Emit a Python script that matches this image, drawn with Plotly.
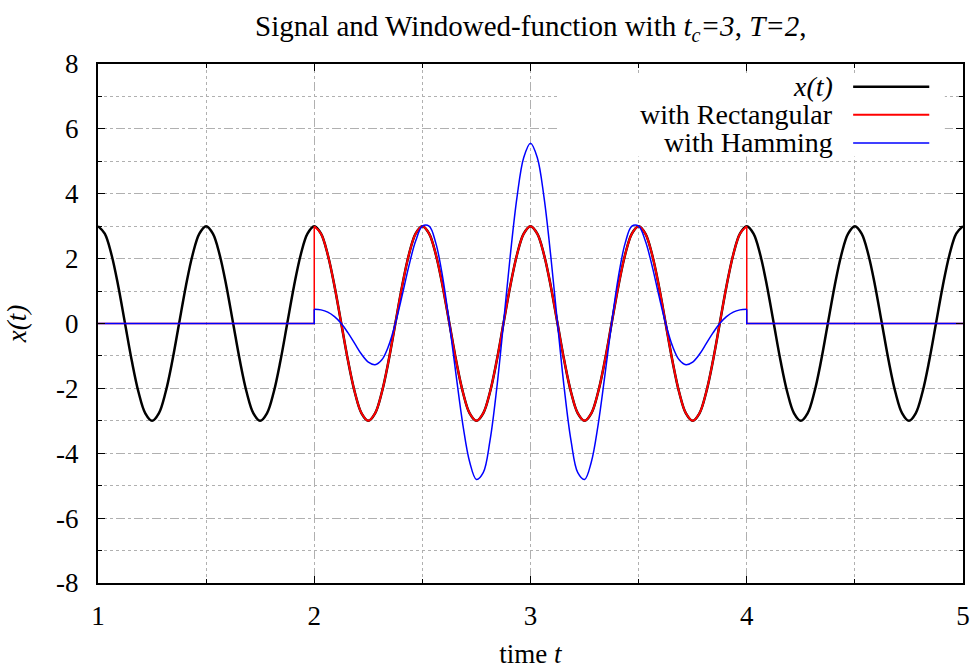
import numpy as np
import plotly.graph_objects as go

# ---- data read from the picture (sampled every 1/32 s) ----
# one period (0.5 s) of the signal x(t)
x_period = [3, 2.77, 2.12, 1.15, 0, -1.15, -2.12, -2.77,
            -3, -2.77, -2.12, -1.15, 0, 1.15, 2.12, 2.77]

t_signal = np.linspace(1, 5, 129)
x_signal = x_period * 8 + [3]

t_window = np.linspace(2, 4, 65)
x_rect = x_period * 4 + [3]
x_hamm = [0.44, 0.42, 0.35, 0.21, 0, -0.29, -0.62, -0.95,
          -1.19, -1.27, -1.12, -0.69, 0, 0.86, 1.77, 2.54,
          3.0, 3.0, 2.47, 1.43, 0, -1.61, -3.13, -4.27,
          -4.81, -4.6, -3.62, -2.01, 0, 2.08, 3.89, 5.12,
          5.56,
          5.12, 3.89, 2.08, 0, -2.01, -3.62, -4.6, -4.81,
          -4.27, -3.13, -1.61, 0, 1.43, 2.47, 3.0, 3.0,
          2.54, 1.77, 0.86, 0, -0.69, -1.12, -1.27, -1.19,
          -0.95, -0.62, -0.29, 0, 0.21, 0.35, 0.42, 0.44]

# outside-window parts (zero) with the jumps at the window edges
t_left = [1, 2, 2]
t_right = [4, 4, 5]
rect_left = [0, 0, 3]
rect_right = [3, 0, 0]
hamm_left = [0, 0, 0.44]
hamm_right = [0.44, 0, 0]

y_ticks = [-8, -6, -4, -2, 0, 2, 4, 6, 8]
y_ticktext = ["-8", "-6", "-4", "-2", "0", "2", "4", "6", "8"]
x_ticks = [1, 2, 3, 4, 5]

legend_labels = ["<i>x(t)</i>", "with Rectangular", "with Hamming"]
colors = ["#000000", "#ff0000", "#0000ff"]
widths = [2.5, 2, 1.5]

fig = go.Figure()
fig.add_trace(go.Scatter(x=t_signal, y=x_signal, mode="lines", name="x(t)",
                         line=dict(color=colors[0], width=2.5, shape="spline")))
fig.add_trace(go.Scatter(x=t_left, y=rect_left, mode="lines", name="with Rectangular",
                         line=dict(color=colors[1], width=1.5)))
fig.add_trace(go.Scatter(x=t_right, y=rect_right, mode="lines", name="with Rectangular",
                         line=dict(color=colors[1], width=1.5)))
fig.add_trace(go.Scatter(x=t_window, y=x_rect, mode="lines", name="with Rectangular",
                         line=dict(color=colors[1], width=2, shape="spline")))
fig.add_trace(go.Scatter(x=t_left, y=hamm_left, mode="lines", name="with Hamming",
                         line=dict(color=colors[2], width=1.5)))
fig.add_trace(go.Scatter(x=t_right, y=hamm_right, mode="lines", name="with Hamming",
                         line=dict(color=colors[2], width=1.5)))
fig.add_trace(go.Scatter(x=t_window, y=x_hamm, mode="lines", name="with Hamming",
                         line=dict(color=colors[2], width=1.5, shape="spline")))

serif = "Liberation Serif, Times New Roman, serif"
FS = 27

# key box (gnuplot style: text left, sample right)
shapes = [dict(type="rect", xref="paper", yref="paper", x0=0.534, x1=0.979,
               y0=0.822, y1=0.979, fillcolor="white", line=dict(width=0), layer="above")]
annotations = []
rows = [0.956, 0.902, 0.848]
for lab, col, wd, yy in zip(legend_labels, colors, widths, rows):
    annotations.append(dict(xref="paper", yref="paper", x=0.852, y=yy, text=lab,
                            showarrow=False, xanchor="right", yanchor="middle",
                            font=dict(family=serif, size=28, color="black")))
    shapes.append(dict(type="line", xref="paper", yref="paper", x0=0.873, x1=0.961,
                       y0=yy, y1=yy, line=dict(color=col, width=wd), layer="above"))

axis_common = dict(
    showline=True, linecolor="black", linewidth=2, mirror="ticks",
    ticks="inside", ticklen=7, tickwidth=1, tickcolor="black",
    showgrid=True, gridcolor="#b0b0b0", griddash="dash", gridwidth=1,
    zeroline=False, automargin=False,
    tickfont=dict(family=serif, size=FS, color="black"),
)

fig.update_xaxes(range=[1, 5], tickvals=x_ticks, ticktext=[str(v) for v in x_ticks],
                 ticklabelstandoff=8,
                 minor=dict(dtick=0.5, tick0=1, ticks="inside", ticklen=4, tickcolor="black",
                            showgrid=True, gridcolor="#b0b0b0", griddash="dot", gridwidth=1),
                 title=dict(text="time <i>t</i>", font=dict(family=serif, size=FS, color="black"),
                            standoff=17),
                 **axis_common)
fig.update_yaxes(range=[-8, 8], tickvals=y_ticks, ticktext=y_ticktext,
                 ticklabelstandoff=12,
                 minor=dict(dtick=1, tick0=-8, ticks="inside", ticklen=4, tickcolor="black",
                            showgrid=True, gridcolor="#b0b0b0", griddash="dot", gridwidth=1),
                 title=dict(text="<i>x(t)</i>", font=dict(family=serif, size=FS, color="black"),
                            standoff=22),
                 **axis_common)

fig.update_layout(
    width=974, height=669,
    margin=dict(l=98, r=11, t=64, b=86),
    plot_bgcolor="white", paper_bgcolor="white",
    showlegend=False,
    title=dict(text="Signal and Windowed-function with <i>t</i><sub><i>c</i></sub><i>=3</i>, <i>T=2</i>,",
               x=0.545, xanchor="center", y=0.962, yanchor="middle",
               font=dict(family=serif, size=29, color="black")),
    shapes=shapes, annotations=annotations,
)

fig.write_html("out.html")
